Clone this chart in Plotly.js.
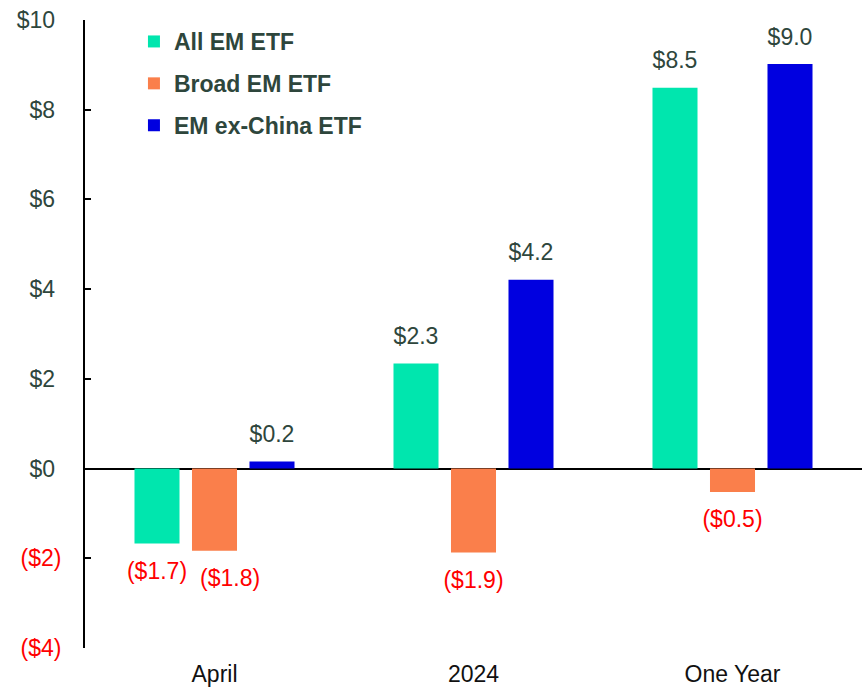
<!DOCTYPE html>
<html>
<head>
<meta charset="utf-8">
<script src="https://cdn.plot.ly/plotly-3.0.1.min.js"></script>
<style>html,body{margin:0;padding:0;background:#fff}#chart{width:865px;height:687px}</style>
</head>
<body>
<div id="chart"></div>
<script>
// ---- data ----
var categories = ["April", "2024", "One Year"];
var seriesNames = ["All EM ETF", "Broad EM ETF", "EM ex-China ETF"];
var allEM = [-1.67, 2.34, 8.49];
var broadEM = [-1.83, -1.87, -0.52];
var exChina = [0.16, 4.21, 9.02];
var yTickVals = [10, 8, 6, 4, 2, 0, -2, -4];
var yTickText = ["$10", "$8", "$6", "$4", "$2", "$0", "($2)", "($4)"];

// ---- styling ----
var colors = ["#00E6AE", "#FA7F4B", "#0000E0"];
var darkText = "#2E463C";
var negRed = "#FF0000";
var FONT = "Liberation Sans, Arial, sans-serif";
// one label (Broad EM ETF, April) is drawn nudged right to avoid overlap
var nudge = { s: 1, p: 0, dx: 15, dy: -12 };

function fmt(v) {
  var s = "$" + Math.abs(v).toFixed(1);
  return v < 0 ? "(" + s + ")" : s;
}

var seriesValues = [allEM, broadEM, exChina];
var traces = [];
seriesValues.forEach(function (vals, i) {
  traces.push({
    type: "bar",
    name: seriesNames[i],
    x: categories,
    y: vals,
    marker: { color: colors[i] },
    offsetgroup: "g" + i,
    legendgroup: "g" + i,
    hoverinfo: "skip"
  });
});
seriesValues.forEach(function (vals, i) {
  traces.push({
    type: "scatter",
    mode: "markers+text",
    x: categories,
    y: vals,
    text: vals.map(function (v, j) {
      return (i === nudge.s && j === nudge.p) ? "" : fmt(v);
    }),
    textposition: vals.map(function (v) { return v < 0 ? "bottom center" : "top center"; }),
    textfont: { family: FONT, size: 23, color: vals.map(function (v) { return v < 0 ? negRed : darkText; }) },
    marker: { size: vals.map(function (v) { return v < 0 ? 27 : 20; }), opacity: 0 },
    offsetgroup: "g" + i,
    showlegend: false,
    hoverinfo: "skip",
    cliponaxis: false
  });
});

var nv = seriesValues[nudge.s][nudge.p];
var annotations = [{
  xref: "x", yref: "y",
  x: categories[nudge.p], y: nv,
  text: fmt(nv),
  showarrow: false,
  xanchor: "center", yanchor: "top",
  xshift: nudge.dx, yshift: nudge.dy,
  font: { family: FONT, size: 23, color: nv < 0 ? negRed : darkText }
}];

var layout = {
  width: 865,
  height: 687,
  margin: { l: 85, r: 3, t: 20, b: 39 },
  paper_bgcolor: "#fff",
  plot_bgcolor: "#fff",
  font: { family: FONT, size: 23, color: darkText },
  barmode: "group",
  bargap: 0.334,
  bargroupgap: 0.217,
  scattermode: "group",
  scattergap: 0.334,
  showlegend: true,
  annotations: annotations,
  legend: {
    x: 0.063, y: 1.0, xanchor: "left", yanchor: "top",
    font: { family: FONT, size: 23, color: darkText, weight: "bold" },
    bgcolor: "rgba(0,0,0,0)",
    tracegroupgap: 9,
    itemwidth: 30
  },
  xaxis: {
    type: "category",
    showline: false,
    showgrid: false,
    zeroline: false,
    ticks: "",
    tickfont: { family: FONT, size: 23, color: "#111" },
    ticklabelstandoff: 10,
    fixedrange: true
  },
  yaxis: {
    range: [-4, 10],
    tickvals: yTickVals,
    ticktext: yTickText.map(function (t, i) {
      return yTickVals[i] < 0 ? '<span style="color:' + negRed + '">' + t + '</span>' : t + "\u00A0";
    }),
    tickfont: { family: FONT, size: 23, color: darkText },
    showline: true,
    linecolor: "#000",
    linewidth: 2,
    ticks: "inside",
    ticklen: 6,
    tickwidth: 2,
    tickcolor: "#000",
    showgrid: false,
    zeroline: true,
    zerolinecolor: "#000",
    zerolinewidth: 2,
    ticklabelstandoff: 17,
    fixedrange: true
  }
};

Plotly.newPlot("chart", traces, layout, { displayModeBar: false, staticPlot: true });
</script>
</body>
</html>
